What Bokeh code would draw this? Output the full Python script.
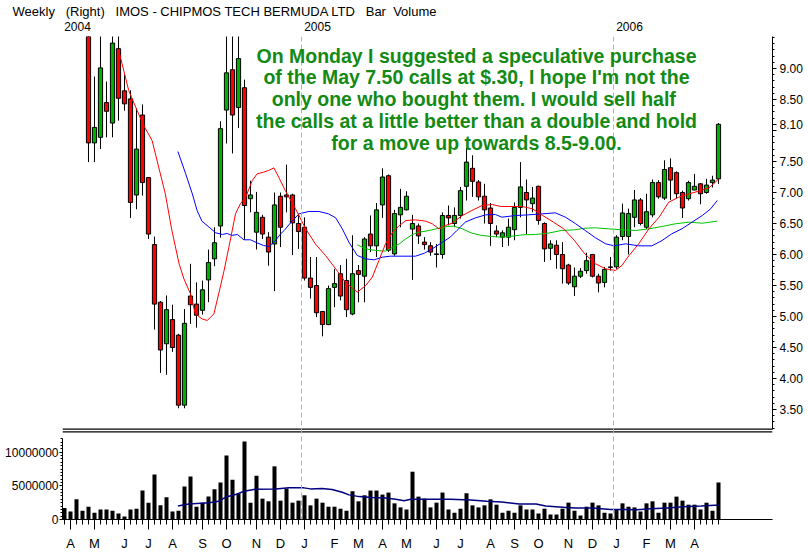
from bokeh.plotting import figure
from bokeh.models import (ColumnDataSource, FixedTicker, PrintfTickFormatter,
                          Label, Range1d, LinearAxis, Span)
from bokeh.embed import file_html
from bokeh.resources import INLINE

# ---------------- data (weekly bars, index 0 = first week of April 2004) -------------
opens = [11.0, 10.5, 10.3, 10.6, 10.0, 7.80, 7.89, 8.45, 8.12, 9.32,
         8.64, 8.51, 6.96, 8.25, 7.24, 6.16, 5.23, 4.56, 4.95, 4.70,
         3.57, 5.33, 5.20, 5.10, 5.59, 5.93, 6.46, 8.33, 8.98, 8.37,
         8.69, 6.90, 6.36, 6.60, 6.28, 6.17, 6.94, 6.96, 6.96, 6.50,
         6.44, 5.62, 5.50, 5.08, 4.87, 5.47, 5.69, 5.58, 5.04, 5.74,
         5.65, 6.33, 6.14, 6.80, 7.27, 6.01, 6.64, 6.72, 6.41, 6.46,
         6.20, 6.14, 6.01, 6.00, 6.63, 6.50, 6.63, 7.10, 7.39, 7.17,
         6.94, 6.75, 6.38, 6.28, 6.28, 6.40, 6.76, 7.00, 6.82, 7.10,
         6.50, 6.10, 6.15, 6.00, 5.83, 5.48, 5.65, 5.74, 6.00, 5.65,
         5.55, 5.79, 5.80, 6.29, 6.29, 6.60, 6.88, 6.44, 6.64, 7.16,
         6.91, 7.40, 7.32, 7.00, 6.90, 7.04, 7.14, 7.00, 7.16, 7.22]
highs = [11.5, 10.9, 10.8, 10.9, 10.2, 8.87, 9.60, 8.79, 9.65, 9.62,
         8.90, 8.65, 8.36, 8.42, 7.25, 6.29, 5.25, 5.34, 5.19, 4.72,
         5.12, 5.85, 5.55, 5.58, 6.08, 6.44, 8.15, 9.60, 9.58, 9.62,
         8.82, 7.19, 7.01, 6.64, 6.36, 7.00, 7.00, 7.45, 6.98, 6.66,
         6.60, 5.96, 5.96, 5.09, 5.50, 5.77, 5.83, 5.93, 6.31, 5.83,
         6.28, 6.63, 6.83, 7.39, 7.29, 6.72, 7.06, 7.02, 6.64, 6.50,
         6.28, 6.20, 6.17, 6.68, 6.79, 6.76, 7.09, 7.72, 7.60, 7.20,
         7.14, 6.83, 6.47, 6.39, 6.58, 6.84, 7.49, 7.21, 7.09, 7.11,
         6.52, 6.23, 6.23, 6.20, 5.85, 5.79, 5.78, 6.03, 6.01, 5.69,
         5.80, 5.96, 6.31, 6.82, 6.74, 7.04, 6.91, 6.98, 7.21, 7.20,
         7.52, 7.55, 7.34, 7.03, 7.19, 7.30, 7.15, 7.22, 7.27, 8.12]
lows = [10.2, 9.9, 9.8, 9.8, 7.49, 7.49, 7.70, 7.89, 7.89, 8.16,
        8.32, 6.59, 6.73, 6.95, 6.25, 4.79, 4.09, 4.06, 4.43, 3.52,
        3.52, 4.88, 4.82, 5.03, 5.23, 5.81, 6.27, 7.79, 7.63, 8.04,
        6.24, 6.68, 6.08, 6.25, 5.82, 5.41, 6.12, 6.68, 5.99, 6.09,
        5.58, 5.29, 4.99, 4.68, 4.86, 5.15, 5.26, 4.99, 5.02, 5.23,
        5.23, 6.04, 5.96, 6.59, 6.04, 5.98, 6.44, 6.71, 5.59, 6.17,
        6.08, 5.98, 5.79, 5.93, 6.47, 6.44, 6.58, 6.87, 6.93, 6.87,
        6.50, 6.14, 6.28, 6.12, 6.14, 6.23, 6.60, 6.33, 6.68, 6.48,
        5.88, 5.91, 5.77, 5.53, 5.51, 5.33, 5.62, 5.69, 5.63, 5.39,
        5.47, 5.74, 5.77, 6.23, 6.00, 6.44, 6.47, 6.41, 6.60, 6.90,
        6.88, 6.88, 6.90, 6.59, 6.87, 7.04, 6.81, 6.98, 7.08, 7.14]
closes = [10.5, 10.3, 10.6, 10.0, 7.80, 8.05, 9.01, 8.31, 9.41, 8.52,
          8.43, 6.84, 7.70, 7.16, 6.33, 5.20, 4.46, 5.11, 4.50, 3.57,
          4.89, 5.19, 5.02, 5.43, 5.87, 6.19, 8.03, 8.93, 8.25, 9.16,
          6.79, 6.96, 6.68, 6.33, 6.04, 6.80, 6.44, 6.93, 6.51, 6.37,
          5.62, 5.47, 5.06, 4.87, 5.45, 5.53, 5.33, 5.11, 5.69, 5.68,
          6.25, 6.14, 6.72, 7.25, 6.07, 6.66, 6.76, 6.94, 6.50, 6.30,
          6.16, 6.04, 6.00, 6.63, 6.59, 6.63, 7.03, 7.49, 7.18, 6.93,
          6.72, 6.50, 6.33, 6.35, 6.44, 6.76, 7.09, 6.88, 6.91, 6.55,
          6.09, 6.17, 6.00, 5.77, 5.54, 5.65, 5.73, 5.90, 5.65, 5.54,
          5.76, 5.80, 6.28, 6.67, 6.66, 6.88, 6.50, 6.69, 7.16, 6.93,
          7.37, 7.20, 6.98, 6.75, 7.16, 7.10, 6.98, 7.12, 7.20, 8.10]
volume_m = [1.7, 1.2, 3.0, 1.3, 1.9, 1.0, 1.5, 1.5, 1.3, 0.9,
            0.45, 1.5, 1.6, 4.3, 2.5, 6.7, 2.1, 3.3, 1.2, 1.3,
            4.9, 6.4, 1.9, 2.5, 3.4, 4.5, 5.5, 9.5, 5.9, 3.9,
            11.6, 2.5, 6.5, 3.1, 2.7, 7.9, 2.8, 4.6, 2.5, 2.8,
            3.6, 2.1, 3.1, 2.5, 1.9, 1.9, 1.6, 1.3, 4.2, 2.7,
            3.6, 4.3, 4.3, 3.7, 4.0, 2.4, 1.8, 1.5, 7.1, 3.4,
            3.1, 1.8, 2.5, 4.0, 1.5, 1.0, 1.6, 3.9, 2.1, 1.8,
            2.1, 3.0, 2.2, 1.0, 1.3, 1.0, 2.1, 1.5, 1.5, 0.9,
            1.6, 0.75, 0.75, 1.6, 2.5, 1.3, 0.6, 1.9, 2.5, 2.1,
            1.0, 0.9, 1.5, 2.4, 1.9, 1.8, 1.2, 2.4, 2.7, 1.0,
            2.5, 2.5, 3.4, 2.8, 2.2, 2.2, 1.5, 2.5, 1.3, 5.5]

# moving averages (bar index, value)
ma10_x = [9.0, 9.6, 10.7, 12.1, 13.2, 14.6, 15.7, 16.8, 17.9, 19.1, 19.9, 21.0, 21.8,
          22.9, 23.8, 24.9, 25.7, 26.6, 27.4, 28.5, 29.3, 30.2, 31.3, 32.1, 33.2, 34.0,
          34.9, 35.7, 36.8, 38.5, 40.2, 41.8, 43.5, 45.2, 46.8, 48.8, 50.2, 51.3, 52.4,
          53.5, 54.7, 55.8, 56.9, 58.5, 60.2, 61.3, 62.4, 63.5, 64.6, 66.3, 67.9, 69.6,
          71.3, 72.7, 74.1, 76.3, 78.0, 79.7, 81.5, 83.2, 85.0, 86.7, 88.5, 90.2, 91.8,
          92.9, 94.1, 95.7, 97.4, 99.1, 100.7, 102.4, 104.1, 105.7, 107.4, 108.5, 109.0]
ma10_y = [9.30, 9.075, 8.645, 8.323, 8.081, 7.839, 7.409, 6.979, 6.387, 5.850, 5.608,
          5.366, 5.043, 4.962, 4.936, 5.043, 5.366, 5.742, 6.118, 6.656, 6.817, 6.925,
          7.194, 7.301, 7.328, 7.355, 7.398, 7.247, 7.032, 6.737, 6.414, 6.172, 5.984,
          5.769, 5.554, 5.392, 5.500, 5.634, 5.903, 6.172, 6.360, 6.468, 6.548, 6.559,
          6.538, 6.495, 6.414, 6.468, 6.505, 6.629, 6.710, 6.790, 6.806, 6.774, 6.774,
          6.774, 6.737, 6.629, 6.522, 6.414, 6.226, 6.011, 5.850, 5.769, 5.742, 5.823,
          5.984, 6.172, 6.414, 6.602, 6.844, 6.925, 6.978, 7.022, 7.075, 7.167, 7.221]
ma20_x = [18.9, 20.2, 21.3, 22.1, 22.9, 24.1, 25.2, 26.3, 27.1, 27.9, 28.8, 29.9, 31.0,
          32.1, 33.2, 34.1, 35.2, 36.0, 36.6, 38.0, 39.1, 40.7, 42.4, 44.0, 45.2, 46.3,
          47.4, 48.8, 50.2, 51.6, 53.0, 54.3, 56.3, 58.5, 60.0, 61.3, 63.0, 64.3, 65.4,
          66.8, 68.5, 70.2, 71.8, 72.9, 75.2, 77.4, 79.7, 81.8, 83.5, 85.2, 86.8, 88.5,
          90.2, 91.6, 93.5, 95.7, 97.9, 99.6, 101.2, 102.9, 104.6, 106.3, 107.7, 108.8]
ma20_y = [7.661, 7.301, 6.979, 6.710, 6.538, 6.441, 6.350, 6.323, 6.339, 6.307, 6.323,
          6.237, 6.237, 6.188, 6.145, 6.129, 6.230, 6.330, 6.387, 6.548, 6.656, 6.694,
          6.694, 6.656, 6.591, 6.414, 6.199, 5.984, 5.930, 5.914, 5.957, 5.973, 5.973,
          5.973, 6.022, 6.091, 6.199, 6.280, 6.387, 6.522, 6.591, 6.640, 6.645, 6.602,
          6.629, 6.640, 6.656, 6.672, 6.602, 6.495, 6.387, 6.269, 6.172, 6.140, 6.172,
          6.140, 6.140, 6.226, 6.333, 6.414, 6.522, 6.629, 6.737, 6.871]
ma50_x = [48.8, 50.2, 51.8, 53.5, 54.7, 55.8, 56.9, 58.0, 59.1, 60.8, 62.4, 63.8, 64.9,
          66.3, 67.9, 69.6, 71.3, 72.7, 74.1, 76.3, 78.5, 80.6, 82.8, 85.0, 86.8, 88.5,
          90.7, 92.9, 95.2, 97.4, 99.6, 101.8, 104.1, 106.3, 108.8]
ma50_y = [6.156, 6.091, 6.065, 6.054, 6.118, 6.172, 6.253, 6.323, 6.360, 6.387, 6.425,
          6.452, 6.457, 6.414, 6.344, 6.306, 6.290, 6.280, 6.290, 6.317, 6.323, 6.344,
          6.387, 6.398, 6.425, 6.430, 6.414, 6.398, 6.387, 6.414, 6.452, 6.495, 6.522,
          6.505, 6.538]
vma_x = [18.9, 20.7, 24.1, 25.7, 26.8, 28.5, 29.9, 31.8, 35.2, 37.4, 39.9, 41.0, 42.9,
         44.6, 46.3, 47.4, 49.1, 51.3, 53.5, 55.2, 56.6, 57.7, 61.0, 64.3, 67.7, 70.4,
         72.9, 75.8, 78.6, 80.2, 83.6, 85.2, 88.0, 91.0, 93.2, 95.4, 97.7, 100.4, 103.2,
         106.1, 108.3, 109.0]
vma_m = [2.0, 2.3, 2.5, 2.7, 3.3, 3.7, 4.2, 4.5, 4.55, 4.7, 4.7, 4.55, 4.6, 4.45, 4.05,
         3.66, 3.4, 3.27, 3.2, 3.0, 2.8, 3.0, 3.0, 3.0, 2.9, 2.7, 2.6, 2.3, 2.3, 2.0, 1.8,
         1.7, 1.7, 1.5, 1.5, 1.45, 1.6, 1.7, 1.9, 2.0, 2.1, 2.1]

month_ticks = [1, 5, 10, 14, 18, 23, 27, 32, 36, 40, 45, 49, 53, 57, 62, 66, 71, 75,
               79, 84, 88, 92, 97, 101, 105]
month_labels = ["A", "M", "J", "J", "A", "S", "O", "N", "D", "J", "F", "M", "A",
                "M", "J", "J", "A", "S", "O", "N", "D", "J", "F", "M", "A"]
year_starts = [-0.5, 39.5, 91.5]
year_labels = ["2004", "2005", "2006"]
price_ticks = [3.5, 4.0, 4.5, 5.0, 5.5, 6.0, 6.5, 7.0, 7.5, 8.0, 8.5, 9.0]
volume_ticks_m = [0, 5, 10]

title_text = ("Weekly\u00a0\u00a0\u00a0(Right)\u00a0\u00a0\u00a0IMOS - CHIPMOS TECH "
              "BERMUDA LTD\u00a0\u00a0\u00a0Bar\u00a0\u00a0Volume")
note_lines = ["On Monday I suggested a speculative purchase",
              "of the May 7.50 calls at $.30, I hope I'm not the",
              "only one who bought them.  I would sell half",
              "the calls at a little better than a double and hold",
              "for a move up towards 8.5-9.00."]

FONT = "Liberation Sans"
RED = "#ff0000"
GREEN = "#00b000"

# ---------------- geometry (canvas pixels -> value scales) ----------------
PX_PER_DOLLAR = 62.0
Y9_PIX = 68.0          # canvas y of the 9.00 level
FRAME_TOP = 36.0       # canvas y of the plotting area top
FRAME_BOT = 519.0      # canvas y of the volume zero line
PX_PER_MVOL = 6.73


def price_at(page_y):
    return 9.0 - (page_y - Y9_PIX) / PX_PER_DOLLAR


n = len(closes)
idx = list(range(n))
price_top = price_at(FRAME_TOP)
price_bot = price_at(429)

# candles that reach into the visible price window
vis = [i for i in idx if lows[i] < price_top]
csrc = ColumnDataSource(dict(
    x=vis,
    h=[highs[i] for i in vis], l=[lows[i] for i in vis],
    top=[max(opens[i], closes[i]) for i in vis],
    bot=[min(opens[i], closes[i]) for i in vis],
    col=[GREEN if closes[i] >= opens[i] else RED for i in vis],
))
vsrc = ColumnDataSource(dict(x=idx, vol=[v_ * 1e6 for v_ in volume_m]))

p = figure(frame_width=710, frame_height=int(FRAME_BOT - FRAME_TOP),
           x_range=Range1d(-0.3333, 118.0),
           y_range=Range1d(price_at(FRAME_BOT), price_top),
           y_axis_location="right", toolbar_location=None, output_backend="svg",
           min_border_left=62, min_border_right=34, min_border_top=36,
           min_border_bottom=33, outline_line_color=None)
p.grid.visible = False
p.extra_y_ranges = {"vol": Range1d(0, (FRAME_BOT - FRAME_TOP) / PX_PER_MVOL * 1e6)}
month_axis = p.below[0]

# title (header line)
p.title.text = title_text
p.title.align = "left"
p.title.offset = -50
p.title.text_font = FONT
p.title.text_font_size = "13px"
p.title.text_font_style = "normal"
p.title.text_color = "black"
p.title.standoff = 0

# year labels on a top axis
year_pos = [round(s + 2.67, 2) for s in year_starts]
top_ax = LinearAxis(ticker=FixedTicker(ticks=year_pos, minor_ticks=[]))
top_ax.major_label_overrides = {yp: lab for yp, lab in zip(year_pos, year_labels)}
top_ax.axis_line_color = None
top_ax.major_tick_line_color = None
top_ax.minor_tick_line_color = None
top_ax.major_tick_out = 0
top_ax.major_tick_in = 0
top_ax.minor_tick_out = 0
top_ax.minor_tick_in = 0
top_ax.major_label_standoff = 6
top_ax.major_label_text_font = FONT
top_ax.major_label_text_font_size = "12px"
top_ax.major_label_text_color = "black"
p.add_layout(top_ax, "above")

# year separators (dashed)
for ys in year_starts[1:]:
    p.add_layout(Span(location=ys, dimension="height", line_color="#b4b4b4",
                      line_dash="5 3", line_width=1))

# double line under the price panel
p.segment(x0=[-0.3333, -0.3333], y0=[price_at(428.6), price_at(431.4)],
          x1=[118.0, 118.0], y1=[price_at(428.6), price_at(431.4)],
          line_color="black", line_width=1.3)

# candles
p.segment(x0="x", y0="h", x1="x", y1="l", source=csrc, line_color="black", line_width=1)
p.vbar(x="x", top="top", bottom="bot", width=0.7, source=csrc, fill_color="col",
       line_color="black", line_width=1)

p.line(ma50_x, ma50_y, line_color="#00c000", line_width=1)
p.line(ma20_x, ma20_y, line_color="#0000ff", line_width=1)
p.line(ma10_x, ma10_y, line_color="#ff0000", line_width=1)

# volume
p.vbar(x="x", top="vol", bottom=0, width=0.67, source=vsrc, fill_color="black",
       line_color=None, y_range_name="vol")
p.line(vma_x, [m * 1e6 for m in vma_m], line_color="#000080", line_width=1.5,
       y_range_name="vol")

# price axis (right)
ax = p.yaxis[0]
ax.bounds = (price_bot, price_top)
ax.ticker = FixedTicker(ticks=price_ticks + [closes[-1]],
                        minor_ticks=[round(3.2 + 0.1 * k, 1) for k in range(64)])
ax.formatter = PrintfTickFormatter(format="%.2f")
ax.major_label_overrides = {8: ""}
ax.major_label_text_font = FONT
ax.major_label_text_font_size = "12px"
ax.major_label_text_color = "black"
ax.major_tick_out = 4
ax.major_tick_in = 0
ax.minor_tick_out = 2
ax.minor_tick_in = 0
ax.major_label_standoff = 3
ax.axis_line_color = "black"

# volume axis (left)
vy = LinearAxis(y_range_name="vol")
vy.bounds = (0, 12.0e6)
vy.ticker = FixedTicker(ticks=[t * 1e6 for t in volume_ticks_m],
                        minor_ticks=[k * 5e5 for k in range(25)])
vy.formatter = PrintfTickFormatter(format="%d")
vy.major_label_text_font = FONT
vy.major_label_text_font_size = "12px"
vy.major_label_text_color = "black"
vy.major_tick_out = 3
vy.major_tick_in = 0
vy.minor_tick_out = 2
vy.minor_tick_in = 0
vy.major_label_standoff = 1
p.add_layout(vy, "left")

# month axis (below)
month_axis.ticker = FixedTicker(ticks=month_ticks, minor_ticks=idx)
month_axis.major_label_overrides = {t: l for t, l in zip(month_ticks, month_labels)}
month_axis.major_label_text_font = FONT
month_axis.major_label_text_font_size = "13px"
month_axis.major_label_text_color = "black"
month_axis.major_tick_out = 10
month_axis.major_tick_in = 0
month_axis.minor_tick_out = 5
month_axis.minor_tick_in = 0
month_axis.major_label_standoff = 6

# commentary
note_base = [55.0, 76.5, 98.0, 120.0, 142.0]
for line, yy in zip(note_lines, note_base):
    p.add_layout(Label(x=68.67, y=price_at(yy), text=line, text_font=FONT,
                       text_font_size="19.5px", text_font_style="bold",
                       text_color="#138a13", text_align="center",
                       text_baseline="alphabetic"))

open("out.html", "w").write(file_html(p, INLINE))
